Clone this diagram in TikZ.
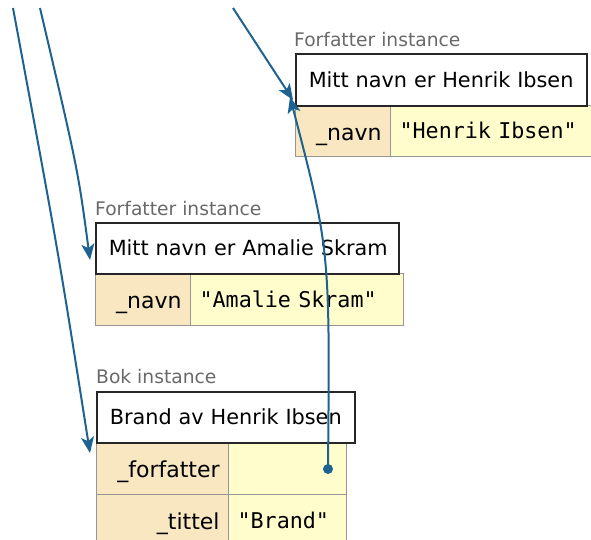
\documentclass[tikz,border=0pt]{standalone}
\usepackage{fontspec}
\setmainfont{DejaVu Sans}
\setmonofont{DejaVu Sans Mono}
\usetikzlibrary{arrows.meta}
\definecolor{arrowblue}{RGB}{30,98,145}
\definecolor{keyfill}{RGB}{248,231,193}
\definecolor{valfill}{RGB}{255,253,204}
\definecolor{cellline}{RGB}{150,150,150}
\definecolor{captgrey}{RGB}{105,105,105}
\tikzset{
  caption/.style={anchor=base west, inner sep=0pt, text=captgrey, font=\fontsize{18.7}{20}\selectfont},
  titlebox/.style={anchor=north west, draw=black!85, line width=1.5pt, fill=white,
    inner xsep=13pt, inner ysep=0pt, align=left, text height=15pt, text depth=0pt,
    font=\fontsize{20.8}{24}\selectfont},
  keycell/.style={anchor=north west, draw=cellline, line width=1.2pt, fill=keyfill,
    inner xsep=9pt, inner ysep=0pt, align=right, text height=18pt, text depth=0pt,
    font=\fontsize{22}{24}\selectfont},
  valcell/.style={anchor=north west, draw=cellline, line width=1.2pt, fill=valfill,
    inner xsep=9pt, inner ysep=0pt, align=left, text height=15pt, text depth=0pt,
    font=\ttfamily\fontsize{21.7}{24}\selectfont},
  ptr/.style={draw=arrowblue, line width=2pt, -{Stealth[length=16pt,width=13pt,inset=4pt]}},
}
\begin{document}
\begin{tikzpicture}[x=1pt,y=-1pt]
\useasboundingbox (0,0) rectangle (591,539);
\clip (0,0) rectangle (591,539);
% Henrik Ibsen instance
\node[caption] (hcap) at (294,46) {Forfatter instance};
\node[keycell, text width=77pt, minimum height=51pt] (hkey) at (295,105) {\mbox{\_navn}};
\node[valcell, text width=197pt, minimum height=51pt] (hval) at (390,105) {\mbox{"Henrik Ibsen"}};
\node[titlebox, text width=265pt, minimum height=52pt] (htitle) at (295,53) {\mbox{Mitt navn er Henrik Ibsen}};
% Amalie Skram instance
\node[caption] (acap) at (95,215) {Forfatter instance};
\node[keycell, text width=77pt, minimum height=52pt] (akey) at (95,273) {\mbox{\_navn}};
\node[valcell, text width=195pt, minimum height=52pt] (aval) at (190,273) {\mbox{"Amalie Skram"}};
\node[titlebox, text width=277pt, minimum height=51pt] (atitle) at (95,222) {\mbox{Mitt navn er Amalie Skram}};
% Bok instance
\node[caption] (bcap) at (96,383) {Bok instance};
\node[keycell, text width=114pt, minimum height=52pt] (bkey1) at (96,442) {\mbox{\_forfatter}};
\node[valcell, text width=100pt, minimum height=52pt] (bval1) at (228,442) {};
\node[keycell, text width=114pt, minimum height=52pt] (bkey2) at (96,494) {\mbox{\_tittel}};
\node[valcell, text width=100pt, minimum height=52pt] (bval2) at (228,494) {\mbox{"Brand"}};
\node[titlebox, text width=232pt, minimum height=51pt] (btitle) at (96,391) {\mbox{Brand av Henrik Ibsen}};
% pointers
\coordinate (s1) at (13,8);
\coordinate (s2) at (40,8);
\coordinate (s3) at (233,8);
\coordinate (t1) at (90,453);
\coordinate (t2) at (90,260);
\coordinate (t3) at (293,100);
\coordinate (t4) at (290,97);
\node[circle, fill=arrowblue, inner sep=0pt, minimum size=10pt] (dot) at (328,469) {};
\draw[ptr] (s1) .. controls (58,250) .. (t1);
\draw[ptr] (s2) .. controls (78,170) .. (t2);
\draw[ptr] (s3) -- (t3);
\draw[ptr] (dot.center) .. controls (330,250) .. (t4);
\end{tikzpicture}
\end{document}
